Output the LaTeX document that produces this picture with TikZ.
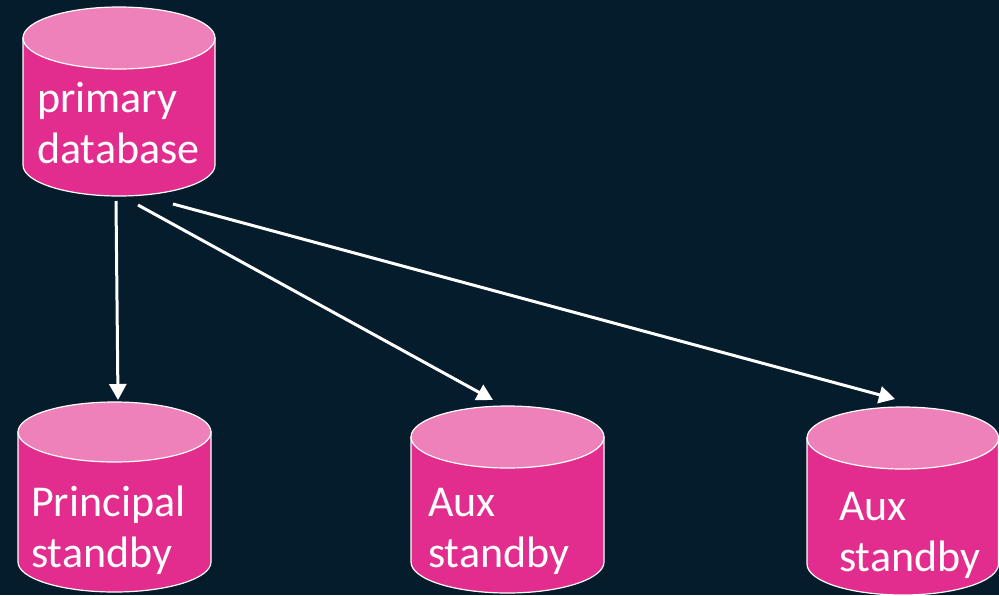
\documentclass[tikz,border=0pt]{standalone}
\usepackage{fontspec}
\setmainfont{Carlito}
\usetikzlibrary{arrows.meta}

\definecolor{bgnavy}{HTML}{041C2C}
\definecolor{dbbody}{HTML}{E22D8E}
\definecolor{dbtop}{HTML}{EE81BA}

% database cylinder: #1 left x, #2 right x, #3 top ellipse centre y,
% #4 bottom ellipse centre y, #5 vertical radius, #6 name
\newcommand\dbcylinder[6]{%
  \pgfmathsetmacro\rx{(#2-#1)/2}%
  \pgfmathsetmacro\cx{(#1+#2)/2}%
  \filldraw[cylbody] (#1,#3) -- (#1,#4)
    arc[start angle=180,end angle=360,x radius=\rx,y radius=-#5]
    -- (#2,#3) -- cycle;
  \filldraw[cyltop] (\cx,#3) ellipse[x radius=\rx,y radius=#5];
  \node[inner sep=0pt,minimum width=#2-#1,minimum height=#4-#3+2*#5] (#6)
    at (\cx,{(#3+#4)/2}) {};%
}

\begin{document}
\begin{tikzpicture}[x=1pt,y=-1pt,
  cylbody/.style={fill=dbbody,draw=white,line width=1.2pt},
  cyltop/.style={fill=dbtop,draw=white,line width=1.2pt},
  dblabel/.style={text=white,inner sep=0pt,anchor=base west,align=left,
    font=\fontsize{44}{51}\selectfont},
  feed/.style={draw=white,line width=3pt,
    -{Triangle[length=16pt,width=17pt]}}]

\fill[bgnavy] (0,0) rectangle (999,595);
\useasboundingbox (0,0) rectangle (999,595);

\dbcylinder{23}{215}{38}{165}{31}{primary}
\dbcylinder{18}{211}{432}{562}{30}{principal}
\dbcylinder{411}{604}{437}{562}{31}{auxA}
\dbcylinder{807}{998.5}{438}{564}{31}{auxB}

% labels are placed by the baseline of their last line
\node[dblabel] (primarytxt) at (37,163) {primary\\database};
\node[dblabel] (principaltxt) at (31,567) {Principal\\standby};
\node[dblabel] (auxAtxt) at (428,567) {Aux\\standby};
\node[dblabel] (auxBtxt) at (839,571) {Aux\\standby};

\coordinate (outA) at (116,201);
\coordinate (outB) at (138,205);
\coordinate (outC) at (173,204);
\coordinate (inA) at (118,400);
\coordinate (inB) at (493,400);
\coordinate (inC) at (895,399);

\draw[feed] (outA) -- (inA);
\draw[feed] (outB) -- (inB);
\draw[feed] (outC) -- (inC);
\end{tikzpicture}
\end{document}
